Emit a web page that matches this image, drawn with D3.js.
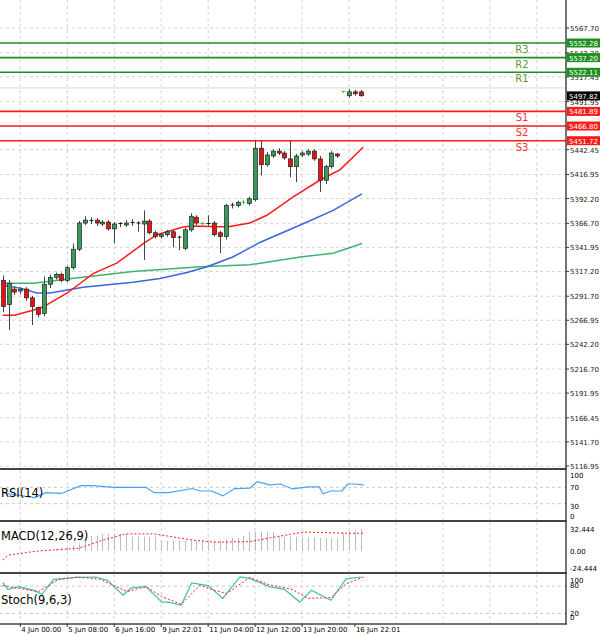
<!DOCTYPE html>
<html><head><meta charset="utf-8">
<script src="https://cdn.jsdelivr.net/npm/d3@7"></script>
<style>body{margin:0;background:#fff}svg{display:block;font-family:"DejaVu Sans",sans-serif}</style>
</head><body><svg id="c" width="600" height="635"></svg>
<script>
// ---- data ----
const open  = [5308,5283,5299,5297,5299,5290,5280,5274,5304,5311,5314,5308,5321,5340,5367,5369,5370,5366,5368,5361,5366,5365,5367,5367,5366,5369,5357,5353,5355,5358,5352,5341,5360,5373,5366,5366,5367,5357,5353,5385,5385,5388,5387,5391,5444,5427,5436,5441,5439,5433,5425,5437,5438,5441,5433,5411,5425,5438,5502,5498,5502,5502];
const high  = [5313,5308,5302,5301,5301,5292,5281,5312,5314,5316,5316,5323,5346,5369,5374,5373,5372,5370,5370,5368,5368,5370,5371,5369,5380,5371,5359,5357,5360,5360,5354,5362,5377,5375,5368,5375,5369,5359,5387,5388,5390,5391,5394,5452,5452,5440,5443,5444,5441,5452,5438,5441,5443,5443,5436,5427,5441,5439,5503,5505,5504,5504];
const low   = [5275,5257,5293,5294,5287,5262,5270,5271,5300,5309,5306,5306,5319,5338,5365,5366,5364,5364,5359,5346,5363,5363,5364,5358,5329,5355,5351,5351,5353,5342,5339,5339,5358,5365,5365,5364,5353,5336,5350,5382,5383,5386,5385,5389,5416,5425,5434,5437,5432,5414,5409,5435,5436,5431,5399,5407,5423,5434,5501,5496,5498,5497];
const close = [5281,5305,5296,5299,5290,5281,5273,5304,5311,5314,5308,5321,5340,5367,5370,5369.5,5367,5368,5361,5366,5366.5,5367,5367.5,5366,5369,5357,5353,5355,5358,5352,5352.5,5360,5374,5367,5366.5,5366.5,5355,5353,5385,5385.5,5388,5388.5,5392,5444,5427,5437,5441,5439,5434,5425,5436,5439,5441,5433,5411,5425,5439,5436,5502.5,5502,5500,5498];
const crossIdx = [34,41,58];
// moving averages: [candle index, price]
const maRed   = [[0,5272],[2,5272],[5,5277],[7,5281],[11,5295],[13,5304],[15.4,5315],[19.5,5326],[24,5346],[26.3,5355],[30.7,5363],[32.4,5364],[38.2,5363],[42.1,5367],[45,5375],[49.5,5394],[54,5411],[57.5,5422],[61.4,5445]];
const maBlue  = [[0,5303],[3,5300],[5.8,5295],[8.1,5295],[13.7,5301],[22.2,5306],[26.8,5310],[31.4,5316],[34.8,5322],[39.2,5332],[43.8,5347],[50.7,5365],[56.3,5380],[61.2,5397]];
const maGreen = [[0,5305],[5.2,5305],[13.2,5311],[22.2,5317],[33.6,5322],[42.1,5324],[50.7,5332],[56.3,5336],[61.2,5346]];
const levelNames  = ["R3","R2","R1","S1","S2","S3"];
const levelValues = [5552.28,5537.20,5522.11,5481.89,5466.80,5451.72];
const lastPrice = 5497.82, askPrice = 5506;
const priceTicks = ["5567.70","5542.20","5517.45","5491.95","5466.45","5442.45","5416.95","5392.20","5366.70","5341.95","5317.20","5291.70","5266.95","5242.20","5216.70","5191.95","5166.45","5141.70","5116.95"];
const rsi = [[0,57],[1.5,53],[5.4,45],[7.4,57],[10,55],[13.3,74],[15.2,74],[19.1,70],[24.4,70],[25.8,57],[28.3,57],[32.3,67],[33.6,61],[35.6,61],[37.5,49],[39.5,67],[42.1,68],[43.4,84],[45.4,76],[47.4,78],[49.3,66],[52,71],[53.9,71],[54.6,54],[55.9,61],[57.8,61],[58.8,78],[59.9,78],[61.5,76]];
const macdHist = [0,0,0,0,0,0,0,0,2,3,4,6,8,11,19,22,22,25,25,25,25,25,21,21,21,21,21,15,15,15,15,15,15,15,15,15,15,15,17,19,19,22,28,28,28,28,28,21,21,21,21,20,20,20,19,19,19,19,27,29,30,32];
const macdSignal = [[0,-13],[1,-6],[6,0],[13,4],[16.6,14.6],[21,25],[25.8,25],[32.3,16],[36,13],[42,13.6],[46.7,21],[51.3,27.7],[58.5,26],[61.5,26]];
const stochMain = [[0,88],[0.85,73],[2.8,79],[5.4,70],[6.7,62],[8.7,95],[12.7,99],[15.9,100],[17.9,92],[20.5,60],[21.9,76],[24.4,79],[27.1,45],[28.3,45],[30.4,38],[32.2,87],[35,81],[37.5,53],[40.4,100],[42.1,97],[45.4,79],[48,73],[50.6,45],[52.6,71],[55.9,49],[58.5,96],[61.1,100]];
const stochSignal = [[0,81],[2.8,75],[6.1,68],[9.4,94],[12.7,100],[16.6,95],[21.2,68],[24.4,79],[27.1,57],[30.4,40],[33.6,82],[36.2,70],[38.2,64],[42.1,99],[45.4,83],[49.3,73],[52,53],[55.9,55],[58.5,85],[61.5,100]];
const timeLabels = ["20:00","4 Jun 00:00","5 Jun 08:00","6 Jun 16:00","9 Jun 22:01","11 Jun 04:00","12 Jun 12:00","13 Jun 20:00","16 Jun 22:01"];
const timeIdx = [-4.5,3,11,19,27,35,43,51,60];

// ---- layout ----
const svg = d3.select("#c");
const AX = 566;
const x = d3.scaleLinear().domain([0,1]).range([2.7,8.57]);
const y = d3.scaleLinear().domain([5116.95,5567.70]).range([466,28]);
const yR = d3.scaleLinear().domain([0,100]).range([516,475]);
const yM = d3.scaleLinear().domain([0,32.444]).range([551,528.8]);
const yS = d3.scaleLinear().domain([0,100]).range([622.6,577]);
const grid = "#c8c8c8";
const panels = [[0,468],[470,520],[522,572],[574,624]];

// vertical grid
const vIdx = d3.range(3, 100, 8).filter(i=>x(i)<AX);
panels.forEach(([t,b])=>{
  svg.append("g").selectAll("line").data(vIdx).join("line")
    .attr("x1",d=>x(d)).attr("x2",d=>x(d)).attr("y1",t).attr("y2",b)
    .attr("stroke",grid).attr("stroke-dasharray","3,3").attr("stroke-width",0.8);
});
// price grid & labels
svg.append("g").selectAll("line").data(priceTicks).join("line")
  .attr("x1",0).attr("x2",AX).attr("y1",d=>y(+d)).attr("y2",d=>y(+d))
  .attr("stroke",grid).attr("stroke-dasharray","3,3").attr("stroke-width",0.8);
svg.append("g").selectAll("text").data(priceTicks).join("text")
  .attr("x",AX+4).attr("y",d=>y(+d)+3).attr("font-size",7).attr("fill","#222").text(d=>d);
svg.append("g").selectAll("line").data(priceTicks).join("line")
  .attr("x1",AX).attr("x2",AX+3).attr("y1",d=>y(+d)).attr("y2",d=>y(+d)).attr("stroke","#333");

// ask line
svg.append("line").attr("x1",0).attr("x2",AX).attr("y1",y(askPrice)).attr("y2",y(askPrice)).attr("stroke","#d8d8d8");
// levels
levelNames.forEach((n,i)=>{
  const v=levelValues[i], isR=n[0]==="R", col=isR?"#1f8f1f":"#ff1a1a";
  svg.append("line").attr("x1",0).attr("x2",AX).attr("y1",y(v)).attr("y2",y(v)).attr("stroke",col).attr("stroke-width",1.6);
  svg.append("text").attr("x",522).attr("y",y(v)+10).attr("text-anchor","middle").attr("font-size",10)
    .attr("fill",isR?"#5a9a3a":"#ff3030").text(n);
  svg.append("rect").attr("x",AX+1).attr("y",y(v)-4.5).attr("width",33).attr("height",9).attr("fill",isR?"#1f8f1f":"#ff1a1a");
  svg.append("text").attr("x",AX+3).attr("y",y(v)+3).attr("font-size",7).attr("fill","#fff").text(v.toFixed(2));
});
svg.append("rect").attr("x",AX+1).attr("y",y(lastPrice)-4.5).attr("width",33).attr("height",9).attr("fill","#000");
svg.append("text").attr("x",AX+3).attr("y",y(lastPrice)+3).attr("font-size",7).attr("fill","#fff").text(lastPrice.toFixed(2));

// MAs
const ml = (ys)=>d3.line().x(d=>x(d[0])).y(d=>ys(d[1]));
[[maGreen,"#3cb371"],[maBlue,"#3a64e0"],[maRed,"#ff1a1a"]].forEach(([d,c])=>
  svg.append("path").attr("d",ml(y)(d)).attr("fill","none").attr("stroke",c).attr("stroke-width",1.5));

// candles
const idx = d3.range(open.length);
const g = svg.append("g");
idx.forEach(i=>{
  const cx = Math.round(x(i))+0.5;
  const cross = crossIdx.includes(i);
  const col = cross ? "#2ecc40" : "#111";
  g.append("line").attr("x1",cx).attr("x2",cx).attr("y1",y(high[i])).attr("y2",y(low[i])).attr("stroke",cross?"#2ecc40":"#444");
  const top=y(Math.max(open[i],close[i])), bot=y(Math.min(open[i],close[i]));
  if (bot-top<1.5) {
    g.append("line").attr("x1",cx-2).attr("x2",cx+2).attr("y1",top).attr("y2",top).attr("stroke",col);
  } else {
    g.append("rect").attr("x",cx-2).attr("y",top).attr("width",4).attr("height",bot-top)
      .attr("fill",close[i]>open[i]?"#3a9a5a":"#ee1010").attr("stroke","#222").attr("stroke-width",0.7);
  }
});

// RSI
[70,30].forEach(v=>svg.append("line").attr("x1",0).attr("x2",AX).attr("y1",yR(v)).attr("y2",yR(v)).attr("stroke",grid).attr("stroke-dasharray","3,3"));
svg.append("path").attr("d",ml(yR)(rsi)).attr("fill","none").attr("stroke","#4aa0f0").attr("stroke-width",1.2);
[["100",475],["70",487],["30",506],["0",516]].forEach(([t,yy])=>svg.append("text").attr("x",AX+4).attr("y",yy+3).attr("font-size",7).text(t));
svg.append("text").attr("x",1).attr("y",497).attr("font-size",11.5).text("RSI(14)");

// MACD
svg.append("g").selectAll("line").data(idx.filter(i=>macdHist[i]>0)).join("line")
  .attr("x1",i=>Math.round(x(i))+0.5).attr("x2",i=>Math.round(x(i))+0.5)
  .attr("y1",yM(0)).attr("y2",i=>yM(macdHist[i])).attr("stroke","#bdbdbd");
svg.append("path").attr("d",ml(yM)(macdSignal)).attr("fill","none").attr("stroke","#ff2020").attr("stroke-dasharray","2,2").attr("stroke-width",1);
[["32.444",32.444],["0.00",0],["-24.444",-24.444]].forEach(([t,v])=>svg.append("text").attr("x",AX+4).attr("y",yM(v)+3).attr("font-size",7).text(t));
svg.append("text").attr("x",1).attr("y",540).attr("font-size",11.5).text("MACD(12,26,9)");

// Stoch
[80,20].forEach(v=>svg.append("line").attr("x1",0).attr("x2",AX).attr("y1",yS(v)).attr("y2",yS(v)).attr("stroke",grid).attr("stroke-dasharray","3,3"));
svg.append("path").attr("d",ml(yS)(stochMain)).attr("fill","none").attr("stroke","#40c0b0").attr("stroke-width",1.2);
svg.append("path").attr("d",ml(yS)(stochSignal)).attr("fill","none").attr("stroke","#ff2020").attr("stroke-dasharray","2,2").attr("stroke-width",1);
[["100",580],["80",585],["20",613],["0",617]].forEach(([t,yy])=>svg.append("text").attr("x",AX+4).attr("y",yy+3).attr("font-size",7).text(t));
svg.append("text").attr("x",1).attr("y",604).attr("font-size",11.5).text("Stoch(9,6,3)");

// borders
panels.slice(1).forEach(([t])=>svg.append("line").attr("x1",0).attr("x2",AX+1).attr("y1",t-1).attr("y2",t-1).attr("stroke","#444").attr("stroke-width",2));
svg.append("line").attr("x1",0).attr("x2",AX+1).attr("y1",624).attr("y2",624).attr("stroke","#444").attr("stroke-width",1.5);
svg.append("line").attr("x1",AX).attr("x2",AX).attr("y1",0).attr("y2",624).attr("stroke","#444").attr("stroke-width",1.5);

// time axis
timeLabels.forEach((t,i)=>{
  const xx = x(timeIdx[i]);
  svg.append("line").attr("x1",xx).attr("x2",xx).attr("y1",624).attr("y2",627).attr("stroke","#333");
  svg.append("text").attr("x",xx+1).attr("y",632).attr("font-size",7).text(t);
});
</script></body></html>
